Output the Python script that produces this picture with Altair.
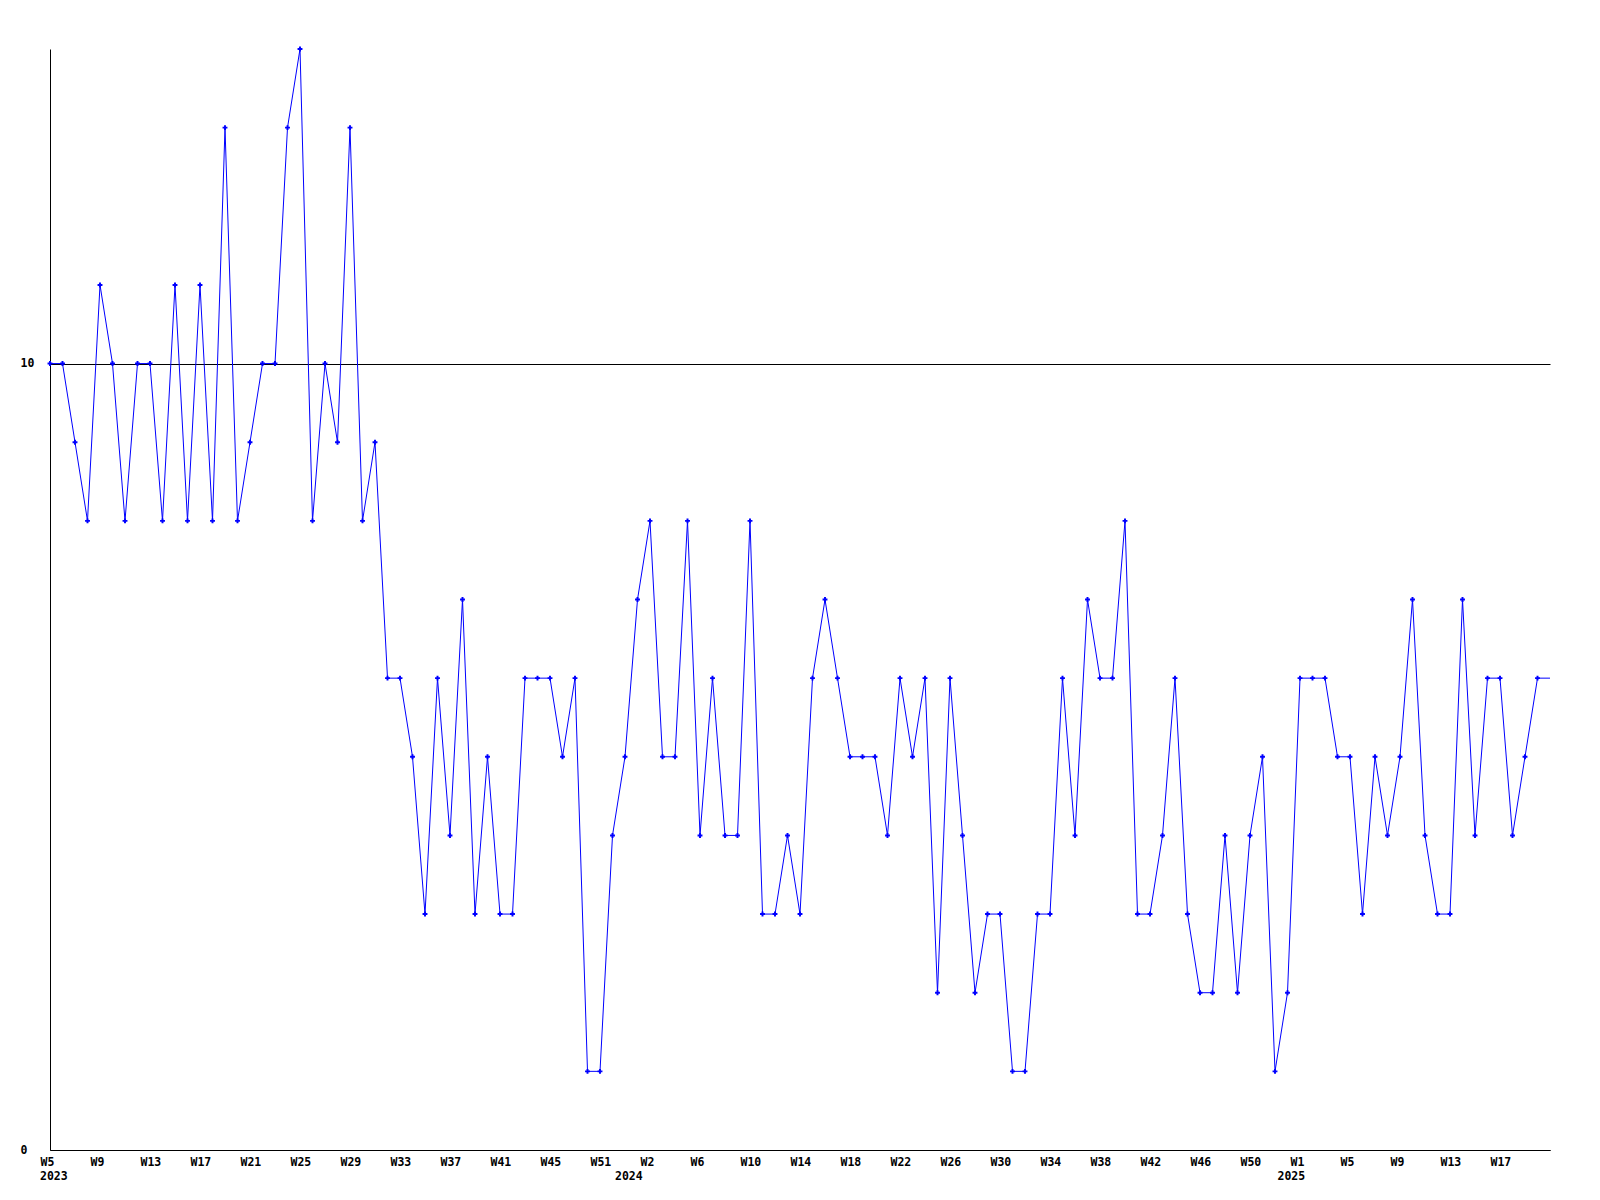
import altair as alt
import pandas as pd

# weekly values, 2023 W5 onward (one point per index)
values = [10, 10, 9, 8, 11, 10, 8, 10, 10, 8,
          11, 8, 11, 8, 13, 8, 9, 10, 10, 13,
          14, 8, 10, 9, 13, 8, 9, 6, 6, 5,
          3, 6, 4, 7, 3, 5, 3, 3, 6, 6,
          6, 5, 6, 1, 1, 4, 5, 7, 8, 5,
          5, 8, 4, 6, 4, 4, 8, 3, 3, 4,
          3, 6, 7, 6, 5, 5, 5, 4, 6, 5,
          6, 2, 6, 4, 2, 3, 3, 1, 1, 3,
          3, 6, 4, 7, 6, 6, 8, 3, 3, 4,
          6, 3, 2, 2, 4, 2, 4, 5, 1, 2,
          6, 6, 6, 5, 5, 3, 5, 4, 5, 7,
          4, 3, 3, 7, 4, 6, 6, 4, 5, 6,
          6]

tick_labels = ["W5", "W9", "W13", "W17", "W21", "W25", "W29", "W33", "W37", "W41",
               "W45", "W51", "W2", "W6", "W10", "W14", "W18", "W22", "W26", "W30",
               "W34", "W38", "W42", "W46", "W50", "W1", "W5", "W9", "W13", "W17"]
tick_step = 4

year_labels = ["2023", "2024", "2025"]
year_index = [0, 46, 99]

y_ticks = [0, 10]

df = pd.DataFrame({"idx": list(range(len(values))), "value": values})
years = pd.DataFrame({"idx": year_index, "label": year_labels})

FONT = "DejaVu Sans Mono"
W, H = 1500, 1101
n_last = len(values) - 1

label_expr = "[" + ",".join(f"'{t}'" for t in tick_labels) + f"][round(datum.value/{tick_step})]"

x_enc = alt.X(
    "idx:Q",
    scale=alt.Scale(domain=[0, n_last], nice=False, zero=False),
    axis=alt.Axis(
        values=[i * tick_step for i in range(len(tick_labels))],
        labelExpr=label_expr,
        title=None,
        grid=False,
        ticks=False,
        tickSize=0,
        labelAlign="left",
        labelOffset=-10,
        labelBaseline="top",
        labelPadding=6,
        labelFont=FONT,
        labelFontSize=11.5,
        labelFontWeight="bold",
        labelColor="#000000",
        domainColor="#000000",
        domainWidth=1,
        labelOverlap=False,
        labelFlush=False,
    ),
)

y_enc = alt.Y(
    "value:Q",
    scale=alt.Scale(domain=[0, 14], nice=False, zero=True),
    axis=alt.Axis(
        values=y_ticks,
        format="d",
        title=None,
        grid=True,
        gridColor="#000000",
        gridOpacity=1,
        gridWidth=1,
        ticks=False,
        tickSize=0,
        labelAlign="left",
        labelBaseline="middle",
        labelPadding=30,
        labelFont=FONT,
        labelFontSize=11.5,
        labelFontWeight="bold",
        labelColor="#000000",
        domainColor="#000000",
        domainWidth=1,
        labelOverlap=False,
    ),
)

line = alt.Chart(df).mark_line(color="#0000ff", strokeWidth=1, interpolate="linear").encode(
    x=x_enc, y=y_enc
)

points = alt.Chart(df).transform_filter(f"datum.idx < {n_last}").mark_point(
    shape="cross", filled=True, size=24, color="#0000ff", opacity=1
).encode(x="idx:Q", y="value:Q")

year_text = alt.Chart(years).mark_text(
    align="left", baseline="top", dx=-10, font=FONT, fontSize=11.5,
    fontWeight="bold", color="#000000"
).encode(x="idx:Q", y=alt.value(H + 21), text="label:N")

chart = alt.layer(line, points, year_text).properties(
    width=W,
    height=H,
    background="#ffffff",
    autosize=alt.AutoSizeParams(type="none"),
    padding={"left": 42, "top": 41, "right": 34, "bottom": 40},
).configure_view(strokeWidth=0, stroke="transparent")

chart.save("out.html", embed_options={"renderer": "svg", "actions": False})
